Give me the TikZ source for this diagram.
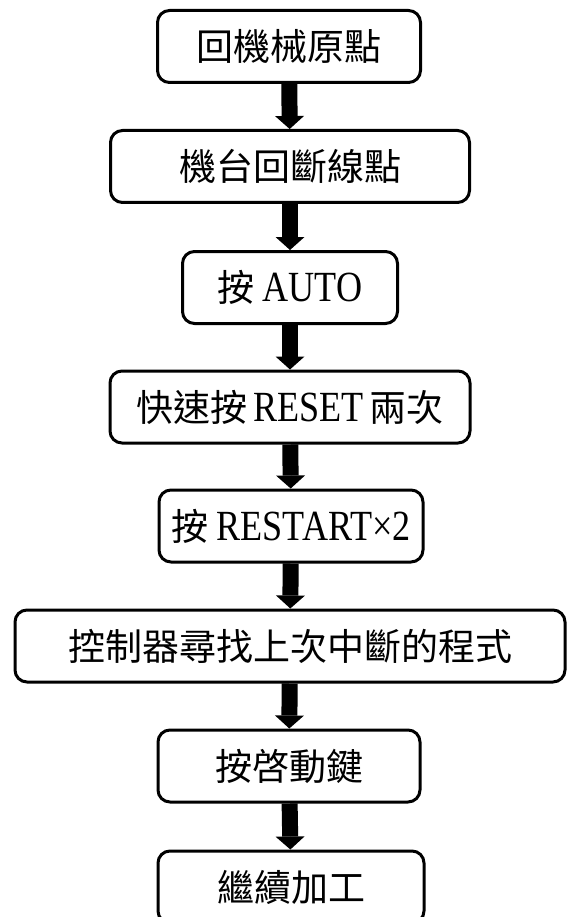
\documentclass[tikz,border=0pt]{standalone}
\usepackage{fontspec}
\newfontfamily\cjk{Noto Sans CJK TC}
\newfontfamily\lat[FakeStretch=0.84]{Liberation Serif}
\usetikzlibrary{arrows.meta}
\begin{document}
\begin{tikzpicture}[x=1pt,y=-1pt,
  box/.style={draw, line width=3pt, rounded corners=12pt, minimum height=72pt,
    inner sep=0pt, font=\cjk\fontsize{37}{40}\selectfont},
  flow/.style={line width=16pt, -{Triangle[width=29pt,length=13pt,line width=0pt]}}]
\useasboundingbox (0,0) rectangle (567,917);
\newcommand{\latin}[1]{{\lat\fontsize{43}{40}\selectfont #1}}
\node[box, minimum width=263pt] (b1) at (289,46.5) {回機械原點};
\node[box, minimum width=359pt] (b2) at (290,166.5) {機台回斷線點};
\node[box, minimum width=215pt] (b3) at (290,287.5) {按 \latin{AUTO}};
\node[box, minimum width=360pt] (b4) at (290,407) {快速按\,\latin{RESET}\,兩次};
\node[box, minimum width=264pt] (b5) at (291,526) {按 \latin{RESTART×2}};
\node[box, minimum width=550pt] (b6) at (290,646) {控制器尋找上次中斷的程式};
\node[box, minimum width=262pt] (b7) at (289,766) {按啓動鍵};
\node[box, minimum width=266pt] (b8) at (291,887) {繼續加工};
\draw[flow] (b1) -- (b2);
\draw[flow] (b2) -- (b3);
\draw[flow] (b3) -- (b4);
\draw[flow] (b4) -- (b5);
\draw[flow] (b5) -- (b6);
\draw[flow] (b6) -- (b7);
\draw[flow] (b7) -- (b8);
\end{tikzpicture}
\end{document}
